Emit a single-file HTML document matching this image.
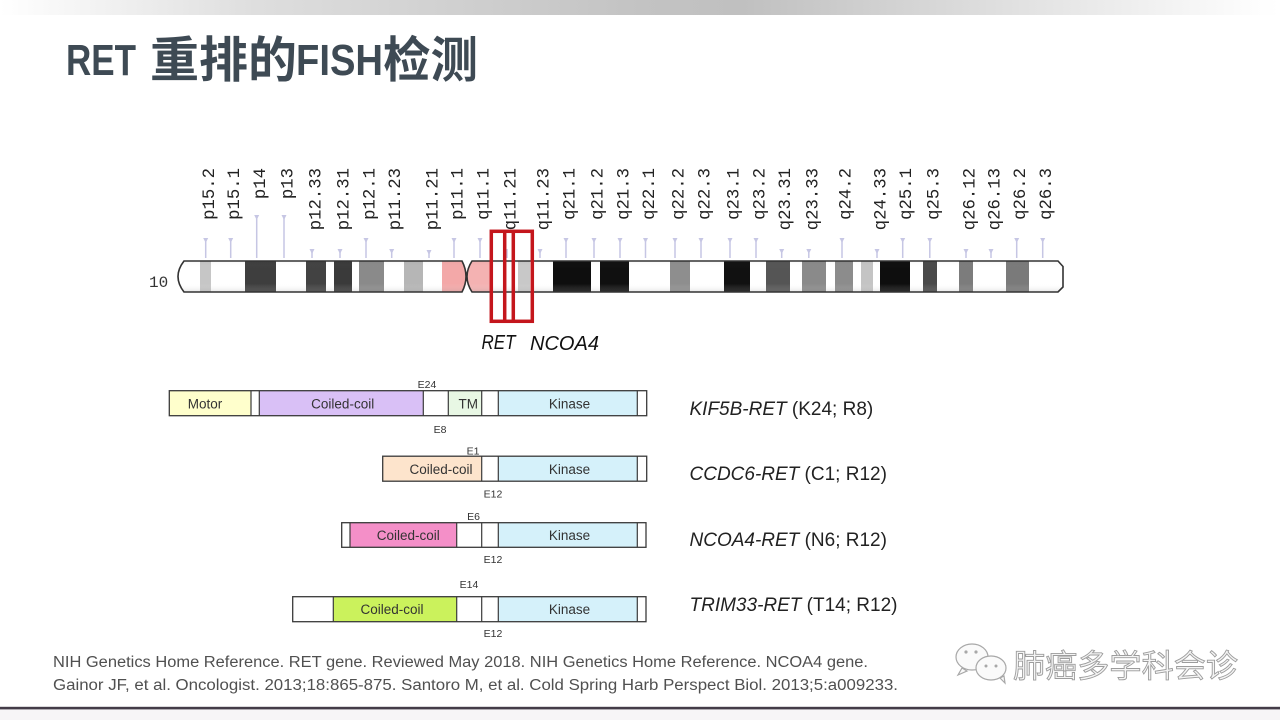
<!DOCTYPE html>
<html>
<head>
<meta charset="utf-8">
<style>
html,body{margin:0;padding:0;background:#fff;}
body{width:1280px;height:720px;overflow:hidden;}
svg{display:block;}
.lbl{font-family:"Liberation Mono",monospace;font-size:17.3px;fill:#222;}
.tk{stroke:#c6c6e4;stroke-width:1.5;}
.pin{fill:#c6c6e4;}
.bx{stroke:#3a3a3a;stroke-width:1.3;}
.dv{stroke:#3a3a3a;stroke-width:1.2;}
.in{font-family:"Liberation Sans",Arial,sans-serif;font-size:13.5px;fill:#333;text-anchor:middle;}
.ex{font-family:"Liberation Sans",Arial,sans-serif;font-size:10.5px;fill:#333;text-anchor:middle;}
.rl{font-family:"Liberation Sans",Arial,sans-serif;font-size:19px;fill:#222;}
</style>
</head>
<body>
<svg width="1280" height="720" viewBox="0 0 1280 720" xmlns="http://www.w3.org/2000/svg">
<defs>
<linearGradient id="topbar" x1="0" y1="0" x2="1" y2="0">
<stop offset="0" stop-color="#ffffff"/>
<stop offset="0.03" stop-color="#fafafa"/>
<stop offset="0.2" stop-color="#dedede"/>
<stop offset="0.5" stop-color="#c3c3c3"/>
<stop offset="0.58" stop-color="#c0c0c0"/>
<stop offset="0.8" stop-color="#e2e2e2"/>
<stop offset="0.98" stop-color="#fdfdfd"/>
<stop offset="1" stop-color="#ffffff"/>
</linearGradient>
<linearGradient id="shade" x1="0" y1="0" x2="0" y2="1">
<stop offset="0" stop-color="#000" stop-opacity="0.04"/>
<stop offset="0.25" stop-color="#fff" stop-opacity="0"/>
<stop offset="0.7" stop-color="#fff" stop-opacity="0"/>
<stop offset="1" stop-color="#777" stop-opacity="0.28"/>
</linearGradient>
<clipPath id="parm"><path d="M184,261 L462,261 Q470,276.5 462,292 L184,292 Q172,276.5 184,261 Z"/></clipPath>
<clipPath id="qarm"><path d="M472,261 L1058,261 L1063,266.5 L1063,287 L1058,292 L472,292 Q462,276.5 472,261 Z"/></clipPath>
</defs>

<!-- top bar -->
<rect x="0" y="0" width="1280" height="15" fill="url(#topbar)"/>

<!-- title -->
<g fill="#3e4a54" font-weight="700">
<text x="66" y="75" font-family="Liberation Sans, sans-serif" font-size="44" textLength="70" lengthAdjust="spacingAndGlyphs">RET</text>
<text x="150" y="77" font-family="Liberation Sans, Noto Sans CJK SC, sans-serif" font-size="49" textLength="147" lengthAdjust="spacingAndGlyphs">重排的</text>
<text x="296" y="75" font-family="Liberation Sans, sans-serif" font-size="44" textLength="87" lengthAdjust="spacingAndGlyphs">FISH</text>
<text x="383" y="77" font-family="Liberation Sans, Noto Sans CJK SC, sans-serif" font-size="49" textLength="95" lengthAdjust="spacingAndGlyphs">检测</text>
</g>

<!-- band labels -->
<g class="lbl" text-anchor="end">
<text transform="translate(214.2,168) rotate(-90)">p15.2</text>
<text transform="translate(239.2,168) rotate(-90)">p15.1</text>
<text transform="translate(265.2,168) rotate(-90)">p14</text>
<text transform="translate(292.5,168) rotate(-90)">p13</text>
<text transform="translate(320.5,168) rotate(-90)">p12.33</text>
<text transform="translate(348.5,168) rotate(-90)">p12.31</text>
<text transform="translate(374.5,168) rotate(-90)">p12.1</text>
<text transform="translate(400.2,168) rotate(-90)">p11.23</text>
<text transform="translate(437.5,168) rotate(-90)">p11.21</text>
<text transform="translate(462.5,168) rotate(-90)">p11.1</text>
<text transform="translate(488.5,168) rotate(-90)">q11.1</text>
<text transform="translate(515.5,168) rotate(-90)">q11.21</text>
<text transform="translate(548.5,168) rotate(-90)">q11.23</text>
<text transform="translate(574.5,168) rotate(-90)">q21.1</text>
<text transform="translate(602.5,168) rotate(-90)">q21.2</text>
<text transform="translate(628.5,168) rotate(-90)">q21.3</text>
<text transform="translate(654,168) rotate(-90)">q22.1</text>
<text transform="translate(683.5,168) rotate(-90)">q22.2</text>
<text transform="translate(709.5,168) rotate(-90)">q22.3</text>
<text transform="translate(738.5,168) rotate(-90)">q23.1</text>
<text transform="translate(764.5,168) rotate(-90)">q23.2</text>
<text transform="translate(790.2,168) rotate(-90)">q23.31</text>
<text transform="translate(817.3,168) rotate(-90)">q23.33</text>
<text transform="translate(850.5,168) rotate(-90)">q24.2</text>
<text transform="translate(885.5,168) rotate(-90)">q24.33</text>
<text transform="translate(911.2,168) rotate(-90)">q25.1</text>
<text transform="translate(938.3,168) rotate(-90)">q25.3</text>
<text transform="translate(974.5,168) rotate(-90)">q26.12</text>
<text transform="translate(999.5,168) rotate(-90)">q26.13</text>
<text transform="translate(1025.2,168) rotate(-90)">q26.2</text>
<text transform="translate(1051.2,168) rotate(-90)">q26.3</text>
</g>

<!-- ticks -->
<g class="tk">
<line x1="205.7" y1="238" x2="205.7" y2="258"/>
<line x1="230.7" y1="238" x2="230.7" y2="258"/>
<line x1="256.7" y1="215" x2="256.7" y2="258"/>
<line x1="284" y1="215" x2="284" y2="258"/>
<line x1="312" y1="249" x2="312" y2="258"/>
<line x1="340" y1="249" x2="340" y2="258"/>
<line x1="366" y1="238" x2="366" y2="258"/>
<line x1="391.7" y1="249" x2="391.7" y2="258"/>
<line x1="429" y1="250" x2="429" y2="258"/>
<line x1="454" y1="238" x2="454" y2="258"/>
<line x1="480" y1="238" x2="480" y2="258"/>
<line x1="507" y1="249" x2="507" y2="258"/>
<line x1="540" y1="249" x2="540" y2="258"/>
<line x1="566" y1="238" x2="566" y2="258"/>
<line x1="594" y1="238" x2="594" y2="258"/>
<line x1="620" y1="238" x2="620" y2="258"/>
<line x1="645.5" y1="238" x2="645.5" y2="258"/>
<line x1="675" y1="238" x2="675" y2="258"/>
<line x1="701" y1="238" x2="701" y2="258"/>
<line x1="730" y1="238" x2="730" y2="258"/>
<line x1="756" y1="238" x2="756" y2="258"/>
<line x1="781.7" y1="249" x2="781.7" y2="258"/>
<line x1="808.8" y1="249" x2="808.8" y2="258"/>
<line x1="842" y1="238" x2="842" y2="258"/>
<line x1="877" y1="249" x2="877" y2="258"/>
<line x1="902.7" y1="238" x2="902.7" y2="258"/>
<line x1="929.8" y1="238" x2="929.8" y2="258"/>
<line x1="966" y1="249" x2="966" y2="258"/>
<line x1="991" y1="249" x2="991" y2="258"/>
<line x1="1016.7" y1="238" x2="1016.7" y2="258"/>
<line x1="1042.7" y1="238" x2="1042.7" y2="258"/>
</g>
<g class="pin">
<path d="M203.2 238h5l-2.5 5z"/><path d="M228.2 238h5l-2.5 5z"/>
<path d="M254.2 215h5l-2.5 5z"/><path d="M281.5 215h5l-2.5 5z"/>
<path d="M309.5 249h5l-2.5 5z"/><path d="M337.5 249h5l-2.5 5z"/>
<path d="M363.5 238h5l-2.5 5z"/><path d="M389.2 249h5l-2.5 5z"/>
<path d="M426.5 250h5l-2.5 5z"/><path d="M451.5 238h5l-2.5 5z"/>
<path d="M477.5 238h5l-2.5 5z"/><path d="M537.5 249h5l-2.5 5z"/>
<path d="M563.5 238h5l-2.5 5z"/><path d="M591.5 238h5l-2.5 5z"/>
<path d="M617.5 238h5l-2.5 5z"/><path d="M643 238h5l-2.5 5z"/>
<path d="M672.5 238h5l-2.5 5z"/><path d="M698.5 238h5l-2.5 5z"/>
<path d="M727.5 238h5l-2.5 5z"/><path d="M753.5 238h5l-2.5 5z"/>
<path d="M779.2 249h5l-2.5 5z"/><path d="M806.3 249h5l-2.5 5z"/>
<path d="M839.5 238h5l-2.5 5z"/><path d="M874.5 249h5l-2.5 5z"/>
<path d="M900.2 238h5l-2.5 5z"/><path d="M927.3 238h5l-2.5 5z"/>
<path d="M963.5 249h5l-2.5 5z"/><path d="M988.5 249h5l-2.5 5z"/>
<path d="M1014.2 238h5l-2.5 5z"/><path d="M1040.2 238h5l-2.5 5z"/>
</g>

<!-- chromosome label -->
<text x="149" y="287" font-family="Liberation Mono, monospace" font-size="16" fill="#333">10</text>

<!-- p arm -->
<g clip-path="url(#parm)">
<rect x="170" y="260" width="300" height="34" fill="#fff"/>
<rect x="200" y="260" width="11" height="34" fill="#c6c6c6"/>
<rect x="245" y="260" width="31" height="34" fill="#3e3e3e"/>
<rect x="306" y="260" width="20" height="34" fill="#424242"/>
<rect x="334" y="260" width="18" height="34" fill="#3a3a3a"/>
<rect x="359" y="260" width="25" height="34" fill="#8a8a8a"/>
<rect x="404" y="260" width="19" height="34" fill="#b6b6b6"/>
<rect x="442" y="260" width="30" height="34" fill="#f3a8a8"/>
<rect x="170" y="260" width="300" height="34" fill="url(#shade)"/>
</g>
<path d="M184,261 L462,261 Q470,276.5 462,292 L184,292 Q172,276.5 184,261 Z" fill="none" stroke="#333" stroke-width="1.6"/>

<!-- q arm -->
<g clip-path="url(#qarm)">
<rect x="462" y="260" width="605" height="34" fill="#fff"/>
<rect x="462" y="260" width="28" height="34" fill="#f4b2b2"/>
<rect x="518" y="260" width="12" height="34" fill="#c8c8c8"/>
<rect x="553" y="260" width="38" height="34" fill="#0e0e0e"/>
<rect x="600" y="260" width="29" height="34" fill="#101010"/>
<rect x="670" y="260" width="20" height="34" fill="#8e8e8e"/>
<rect x="724" y="260" width="26" height="34" fill="#111"/>
<rect x="766" y="260" width="24" height="34" fill="#555"/>
<rect x="802" y="260" width="24" height="34" fill="#8a8a8a"/>
<rect x="835" y="260" width="18" height="34" fill="#8c8c8c"/>
<rect x="861" y="260" width="12" height="34" fill="#c4c4c4"/>
<rect x="880" y="260" width="30" height="34" fill="#0e0e0e"/>
<rect x="923" y="260" width="14" height="34" fill="#4a4a4a"/>
<rect x="959" y="260" width="14" height="34" fill="#7c7c7c"/>
<rect x="1006" y="260" width="23" height="34" fill="#7a7a7a"/>
<rect x="462" y="260" width="605" height="34" fill="url(#shade)"/>
</g>
<path d="M472,261 L1058,261 L1063,266.5 L1063,287 L1058,292 L472,292 Q462,276.5 472,261 Z" fill="none" stroke="#333" stroke-width="1.6"/>

<!-- red boxes -->
<g stroke="#c4161c" stroke-width="3.5" fill="none">
<rect x="491.3" y="231.3" width="41" height="90"/>
<line x1="504.7" y1="231.3" x2="504.7" y2="321.3"/>
<line x1="513.3" y1="231.3" x2="513.3" y2="321.3"/>
</g>
<g font-family="Liberation Sans, sans-serif" font-style="italic" font-size="20" fill="#111">
<text x="481.5" y="349" textLength="34" lengthAdjust="spacingAndGlyphs">RET</text>
<text x="530" y="350" textLength="69" lengthAdjust="spacingAndGlyphs">NCOA4</text>
</g>

<!-- KIF5B-RET -->
<g>
<rect x="169.3" y="390.7" width="81.7" height="25" fill="#ffffcc"/>
<rect x="251" y="390.7" width="8.3" height="25" fill="#fff"/>
<rect x="259.3" y="390.7" width="164" height="25" fill="#d9c0f6"/>
<rect x="423.3" y="390.7" width="25" height="25" fill="#fff"/>
<rect x="448.3" y="390.7" width="33.4" height="25" fill="#e8f7e4"/>
<rect x="481.7" y="390.7" width="16.6" height="25" fill="#fff"/>
<rect x="498.3" y="390.7" width="139" height="25" fill="#d5f1fa"/>
<rect x="637.3" y="390.7" width="9.4" height="25" fill="#fff"/>
<rect x="169.3" y="390.7" width="477.4" height="25" fill="none" class="bx"/>
<g class="dv">
<line x1="251" y1="390.7" x2="251" y2="415.7"/><line x1="259.3" y1="390.7" x2="259.3" y2="415.7"/>
<line x1="423.3" y1="390.7" x2="423.3" y2="415.7"/><line x1="448.3" y1="390.7" x2="448.3" y2="415.7"/>
<line x1="481.7" y1="390.7" x2="481.7" y2="415.7"/><line x1="498.3" y1="390.7" x2="498.3" y2="415.7"/>
<line x1="637.3" y1="390.7" x2="637.3" y2="415.7"/>
</g>
<text class="in" x="205" y="408.5">Motor</text>
<text class="in" x="342.7" y="408.5">Coiled-coil</text>
<text class="in" x="468.3" y="408.5">TM</text>
<text class="in" x="569.5" y="408.5">Kinase</text>
<text class="ex" x="427" y="388">E24</text>
<text class="ex" x="440" y="433">E8</text>
</g>

<!-- CCDC6-RET -->
<g>
<rect x="382.7" y="456.2" width="99" height="25" fill="#fde4cc"/>
<rect x="481.7" y="456.2" width="16.6" height="25" fill="#fff"/>
<rect x="498.3" y="456.2" width="139" height="25" fill="#d5f1fa"/>
<rect x="637.3" y="456.2" width="9.4" height="25" fill="#fff"/>
<rect x="382.7" y="456.2" width="264" height="25" fill="none" class="bx"/>
<g class="dv">
<line x1="481.7" y1="456.2" x2="481.7" y2="481.2"/><line x1="498.3" y1="456.2" x2="498.3" y2="481.2"/>
<line x1="637.3" y1="456.2" x2="637.3" y2="481.2"/>
</g>
<text class="in" x="441" y="474">Coiled-coil</text>
<text class="in" x="569.5" y="474">Kinase</text>
<text class="ex" x="473" y="454.5">E1</text>
<text class="ex" x="493" y="497.5">E12</text>
</g>

<!-- NCOA4-RET -->
<g>
<rect x="341.7" y="522.7" width="8.3" height="24.6" fill="#fff"/>
<rect x="350" y="522.7" width="106.7" height="24.6" fill="#f48fc8"/>
<rect x="456.7" y="522.7" width="41.6" height="24.6" fill="#fff"/>
<rect x="498.3" y="522.7" width="139" height="24.6" fill="#d5f1fa"/>
<rect x="637.3" y="522.7" width="8.7" height="24.6" fill="#fff"/>
<rect x="341.7" y="522.7" width="304.3" height="24.6" fill="none" class="bx"/>
<g class="dv">
<line x1="350" y1="522.7" x2="350" y2="547.3"/><line x1="456.7" y1="522.7" x2="456.7" y2="547.3"/>
<line x1="481.7" y1="522.7" x2="481.7" y2="547.3"/><line x1="498.3" y1="522.7" x2="498.3" y2="547.3"/>
<line x1="637.3" y1="522.7" x2="637.3" y2="547.3"/>
</g>
<text class="in" x="408.3" y="540">Coiled-coil</text>
<text class="in" x="569.5" y="540">Kinase</text>
<text class="ex" x="473.5" y="520">E6</text>
<text class="ex" x="493" y="563">E12</text>
</g>

<!-- TRIM33-RET -->
<g>
<rect x="292.7" y="596.7" width="40.6" height="25" fill="#fff"/>
<rect x="333.3" y="596.7" width="123.4" height="25" fill="#cbf25c"/>
<rect x="456.7" y="596.7" width="41.6" height="25" fill="#fff"/>
<rect x="498.3" y="596.7" width="139" height="25" fill="#d5f1fa"/>
<rect x="637.3" y="596.7" width="8.7" height="25" fill="#fff"/>
<rect x="292.7" y="596.7" width="353.3" height="25" fill="none" class="bx"/>
<g class="dv">
<line x1="333.3" y1="596.7" x2="333.3" y2="621.7"/><line x1="456.7" y1="596.7" x2="456.7" y2="621.7"/>
<line x1="481.7" y1="596.7" x2="481.7" y2="621.7"/><line x1="498.3" y1="596.7" x2="498.3" y2="621.7"/>
<line x1="637.3" y1="596.7" x2="637.3" y2="621.7"/>
</g>
<text class="in" x="392" y="614">Coiled-coil</text>
<text class="in" x="569.5" y="614">Kinase</text>
<text class="ex" x="469" y="588">E14</text>
<text class="ex" x="493" y="637">E12</text>
</g>

<!-- right labels -->
<text class="rl" x="689.5" y="415"><tspan font-style="italic">KIF5B-RET</tspan> (K24; R8)</text>
<text class="rl" x="689.5" y="480"><tspan font-style="italic">CCDC6-RET</tspan> (C1; R12)</text>
<text class="rl" x="689.5" y="546"><tspan font-style="italic">NCOA4-RET</tspan> (N6; R12)</text>
<text class="rl" x="689.5" y="611"><tspan font-style="italic">TRIM33-RET</tspan> (T14; R12)</text>

<!-- footer references -->
<g font-family="Liberation Sans, sans-serif" font-size="15.5" fill="#505050">
<text x="53" y="667" textLength="815" lengthAdjust="spacingAndGlyphs">NIH Genetics Home Reference. RET gene. Reviewed May 2018. NIH Genetics Home Reference. NCOA4 gene.</text>
<text x="53" y="690" textLength="845" lengthAdjust="spacingAndGlyphs">Gainor JF, et al. Oncologist. 2013;18:865-875. Santoro M, et al. Cold Spring Harb Perspect Biol. 2013;5:a009233.</text>
</g>

<!-- watermark -->
<g fill="#fafafa" stroke="#a8a8a8" stroke-width="1.2">
<ellipse cx="972" cy="657" rx="16" ry="13"/>
<path d="M962 668 l-4 7 l9 -4 z"/>
<ellipse cx="991" cy="668" rx="15" ry="12"/>
<path d="M1000 678 l5 5 l-1 -7 z"/>
</g>
<g fill="#a8a8a8">
<circle cx="966" cy="652" r="1.6"/><circle cx="976" cy="652" r="1.6"/>
<circle cx="986" cy="666" r="1.5"/><circle cx="996" cy="666" r="1.5"/>
</g>
<text x="1013" y="677" font-family="Liberation Sans, Noto Sans CJK SC, sans-serif" font-size="32" fill="#f4f4f4" stroke="#9c9c9c" stroke-width="0.9" textLength="225" lengthAdjust="spacingAndGlyphs">肺癌多学科会诊</text>

<!-- bottom rule -->
<rect x="0" y="709" width="1280" height="11" fill="#f7f5f7"/>
<rect x="0" y="706.8" width="1280" height="2.6" fill="#433c48"/>
</svg>
</body>
</html>
